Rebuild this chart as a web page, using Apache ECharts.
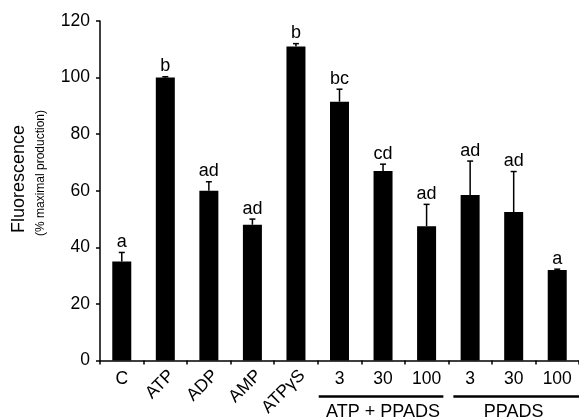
<!DOCTYPE html>
<html>
<head>
<meta charset="utf-8">
<script src="https://cdn.jsdelivr.net/npm/echarts@6/dist/echarts.min.js"></script>
<style>html,body{margin:0;padding:0;background:#fff}#c{width:579px;height:419px}</style>
</head>
<body>
<div id="c"></div>
<script>
const categories = ['C', 'ATP', 'ADP', 'AMP', 'ATP\u03B3S', '3', '30', '100', '3', '30', '100'];
const values = [35, 100, 60, 48, 111, 91.5, 67, 47.5, 58.5, 52.5, 32];
const errors = [3.2, 0.3, 3.2, 2, 1, 4.4, 2.4, 7.7, 12, 14.3, 0.3];
const sigLetters = ['a', 'b', 'ad', 'ad', 'b', 'bc', 'cd', 'ad', 'ad', 'ad', 'a'];
const rotatedIdx = [1, 2, 3, 4];
const groupNames = ['ATP + PPADS', 'PPADS'];
const groupStart = [5, 8];
const groupEnd = [7, 10];
const yTicks = [0, 20, 40, 60, 80, 100, 120];

const FONT = '"Liberation Sans", Arial, sans-serif';
const chart = echarts.init(document.getElementById('c'), null, {renderer: 'canvas'});

const option = {
  animation: false,
  backgroundColor: '#fff',
  grid: {left: 100, right: 0, top: 21, bottom: 58, containLabel: false},
  xAxis: [{
    type: 'category',
    data: categories,
    position: 'bottom',
    boundaryGap: true,
    axisLine: {lineStyle: {color: '#000', width: 1.5}},
    axisTick: {show: true, length: 4, lineStyle: {color: '#000', width: 1.5}, alignWithLabel: false, interval: 0},
    axisLabel: {
      interval: 0, rotate: 45, margin: 6, verticalAlign: 'top', color: '#000', fontSize: 17.5, fontFamily: FONT,
      formatter: (v, i) => rotatedIdx.indexOf(i) >= 0 ? categories[i] : ''
    },
    splitLine: {show: false}
  }, {
    type: 'category',
    data: categories,
    position: 'bottom',
    gridIndex: 0,
    axisLine: {show: false},
    axisTick: {show: false},
    axisLabel: {
      interval: 0, rotate: 0, margin: 10, color: '#000', fontSize: 17.5, fontFamily: FONT,
      formatter: (v, i) => rotatedIdx.indexOf(i) >= 0 ? '' : categories[i]
    },
    splitLine: {show: false}
  }],
  yAxis: {
    type: 'value',
    min: 0, max: 120, interval: 20,
    axisLine: {show: true, lineStyle: {color: '#000', width: 1.5}},
    axisTick: {show: true, length: 4, lineStyle: {color: '#000', width: 1.5}},
    axisLabel: {color: '#000', fontSize: 17.5, fontFamily: FONT, margin: 10,
      formatter: v => yTicks.indexOf(v) >= 0 ? String(v) : ''},
    splitLine: {show: false}
  },
  series: [{
    type: 'bar',
    data: values,
    barWidth: 19,
    itemStyle: {color: '#000'},
    xAxisIndex: 0
  }, {
    type: 'custom',
    xAxisIndex: 0,
    data: values.map((v, i) => [i, v, v + errors[i]]),
    renderItem: function (params, api) {
      const i = api.value(0);
      const base = api.coord([i, api.value(1)]);
      const top = api.coord([i, api.value(2)]);
      const hw = 3;
      return {
        type: 'group',
        children: [
          {type: 'line', shape: {x1: base[0], y1: base[1], x2: top[0], y2: top[1]}, style: {stroke: '#000', lineWidth: 1.5}},
          {type: 'line', shape: {x1: top[0] - hw, y1: top[1], x2: top[0] + hw, y2: top[1]}, style: {stroke: '#000', lineWidth: 1.5}},
          {type: 'text', x: top[0], y: top[1] - 1.5, style: {text: sigLetters[params.dataIndex], textAlign: 'center', textVerticalAlign: 'bottom', font: '18px ' + FONT, fill: '#000'}}
        ]
      };
    },
    z: 3
  }]
};
chart.setOption(option);

function addGraphics() {
  const gridRect = chart.getModel().getComponent('grid', 0).coordinateSystem.getRect();
  const step = gridRect.width / categories.length;
  const lineY = 396.5;
  const els = [];
  for (let g = 0; g < groupNames.length; g++) {
    const c0 = chart.convertToPixel({xAxisIndex: 0}, groupStart[g]);
    const c1 = chart.convertToPixel({xAxisIndex: 0}, groupEnd[g]);
    const left = c0 - step / 2 + (g === 0 ? 1 : 5);
    const right = g === groupNames.length - 1 ? c1 + step / 2 : c1 + step / 2 - 5;
    els.push({type: 'line', shape: {x1: left, y1: lineY, x2: right, y2: lineY}, style: {stroke: '#000', lineWidth: 2.5}});
    els.push({type: 'text', x: (c0 + c1) / 2, y: 412, style: {text: groupNames[g], textAlign: 'center', textVerticalAlign: 'middle', font: '18px ' + FONT, fill: '#000'}});
  }
  els.push({type: 'text', x: 19, y: 179, rotation: Math.PI / 2, style: {text: 'Fluorescence', textAlign: 'center', textVerticalAlign: 'middle', font: '18px ' + FONT, fill: '#000'}});
  els.push({type: 'text', x: 41, y: 173, rotation: Math.PI / 2, style: {text: '(% maximal production)', textAlign: 'center', textVerticalAlign: 'middle', font: '12px ' + FONT, fill: '#000'}});
  chart.setOption({graphic: {elements: els}});
}
addGraphics();
</script>
</body>
</html>
